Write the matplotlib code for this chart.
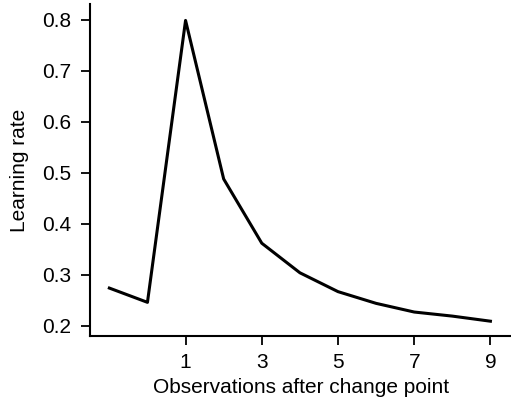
import matplotlib
matplotlib.use("Agg")
import matplotlib.pyplot as plt

# observations relative to change point
obs = [-1, 0, 1, 2, 3, 4, 5, 6, 7, 8, 9]
learning_rate = [0.274, 0.246, 0.799, 0.488, 0.362, 0.304, 0.267, 0.244, 0.227, 0.219, 0.209]
xticks = [1, 3, 5, 7, 9]
yticks = [0.2, 0.3, 0.4, 0.5, 0.6, 0.7, 0.8]

plt.rcParams['font.family'] = ['Liberation Sans', 'DejaVu Sans']

fig = plt.figure(figsize=(5.11, 4.12), dpi=100)
ax = fig.add_axes([0.1767, 0.1845, 0.8233, 0.8055])
ax.plot(obs, learning_rate, color='black', linewidth=2.2)

ax.set_xlim(-1.5, 9.54)
ax.set_ylim(0.18, 0.831)
ax.set_xticks(xticks)
ax.set_yticks(yticks)
ax.set_yticklabels([f"{v:.1f}" for v in yticks])

ax.spines['top'].set_visible(False)
ax.spines['right'].set_visible(False)
for s in ['left', 'bottom']:
    ax.spines[s].set_linewidth(1.5)
ax.tick_params(width=1.3, length=6.5, labelsize=15)
ax.tick_params(axis='x', pad=5.8)
ax.tick_params(axis='y', pad=7.5)

ax.set_xlabel('Observations after change point', fontsize=15, labelpad=4)
ax.set_ylabel('Learning rate', fontsize=15, labelpad=9)

fig.savefig('out.png', dpi=100)
